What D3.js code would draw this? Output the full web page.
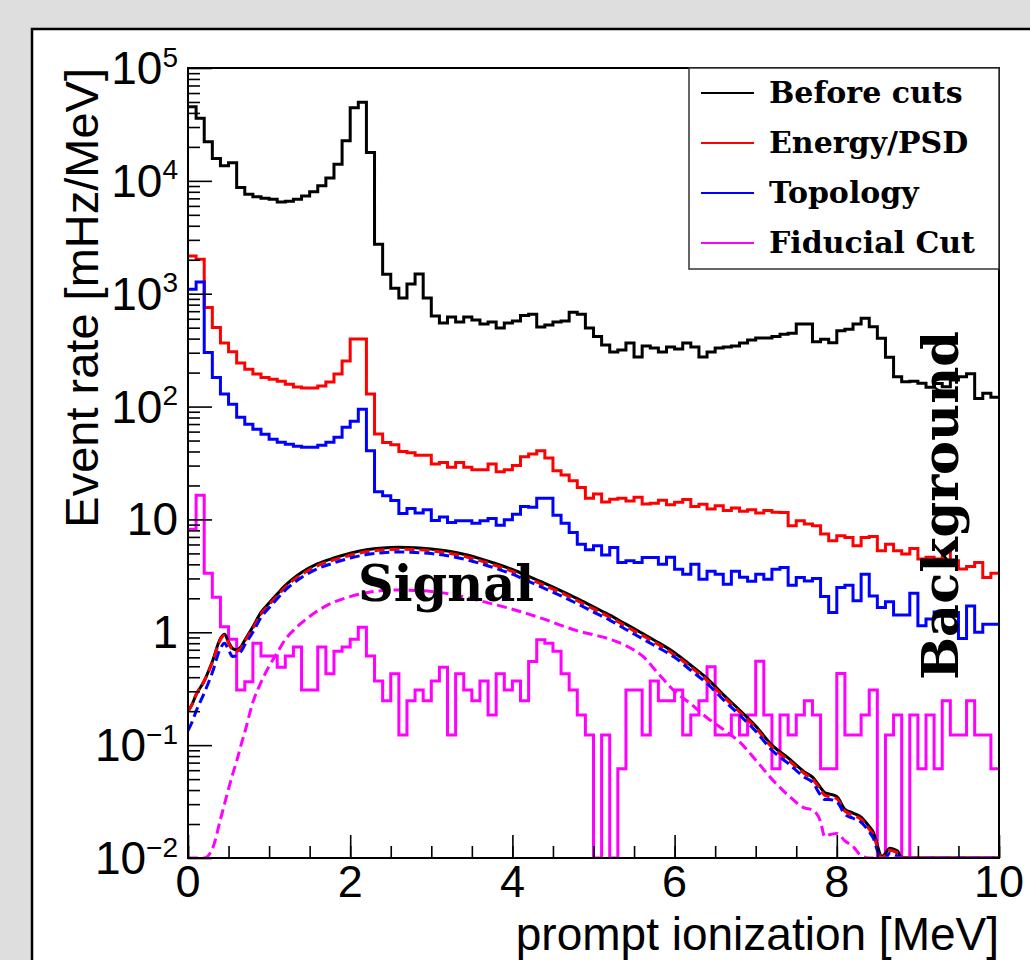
<!DOCTYPE html>
<html>
<head>
<meta charset="utf-8">
<script src="https://cdn.jsdelivr.net/npm/d3@7"></script>
<style>
  body { margin: 0; background: #dedede; }
  svg { display: block; }
  .lab { font-family: "Liberation Sans", Arial, Helvetica, sans-serif; fill: #000; }
  .tex { font-family: "DejaVu Serif", serif; font-weight: bold; fill: #000; }
</style>
</head>
<body>
<div class="chart"></div>
<script>
// histograms: 100 bins of 0.1 MeV from 0 to 10 MeV
var beforeCuts = [45400, 35800, 22200, 15800, 13600, 14500, 8750, 7590, 7240, 7000,
  6860, 6500, 6580, 6860, 7340, 8020, 9060, 10600, 14000, 22700,
  44500, 49600, 17800, 2740, 1490, 1120, 916, 1220, 1495, 916,
  634, 550, 622, 561, 622, 585, 538, 561, 497, 550,
  573, 642, 658, 507, 528, 561, 573, 686, 658, 497,
  417, 352, 304, 317, 366, 275, 344, 330, 304, 337,
  324, 366, 337, 275, 304, 330, 337, 344, 366, 389,
  406, 406, 417, 437, 446, 539, 539, 376, 394, 368,
  470, 484, 539, 605, 510, 403, 273, 184, 166, 168,
  161, 148, 160, 150, 172, 184, 195, 118, 131, 121];

var energyPSD = [2160, 2020, 755, 502, 365, 306, 243, 214, 194, 181,
  175, 168, 158, 149, 146, 146, 152, 165, 194, 254,
  396, 396, 129, 57, 48, 46, 40, 39, 37, 37,
  31, 32, 29, 32, 29, 27.5, 27.5, 31, 26.4, 27.5,
  30, 36, 38, 40.5, 35, 27, 24.7, 22, 19.2, 15.4,
  16.8, 14.3, 15.1, 15.4, 14.6, 15.7, 13.7, 13.9, 14.8, 13.5,
  14.2, 15.0, 13.0, 13.6, 12.4, 13.2, 12.0, 12.6, 11.8, 12.2,
  11.4, 12.0, 11.6, 11.5, 8.77, 9.72, 9.09, 8.77, 7.41, 6.46,
  7.16, 6.93, 5.84, 6.93, 7.07, 5.27, 6.04, 5.27, 4.93, 5.54,
  4.45, 4.63, 4.45, 5.27, 4.30, 3.63, 3.83, 4.16, 3.06, 3.34];

var topology = [1097, 1273, 302, 181, 129, 105, 80.5, 69.8, 63, 56.9,
  51.4, 48.4, 46.4, 44.5, 43.7, 43.7, 45.5, 48.4, 53.5, 65.6,
  74.3, 94.8, 40.5, 17.6, 16.2, 14.7, 11.3, 12.5, 11.4, 12.2,
  9.8, 10.5, 9.41, 9.72, 9.72, 9.27, 9.72, 10.2, 8.9, 9.92,
  11.1, 13.0, 12.8, 15.4, 15.4, 10.9, 9.27, 7.67, 6.04, 5.38,
  5.84, 4.83, 5.65, 4.16, 4.30, 4.16, 4.61, 4.61, 4.01, 4.62,
  3.62, 3.27, 4.01, 2.95, 3.47, 3.27, 2.67, 3.47, 3.08, 2.84,
  3.27, 2.95, 3.62, 3.75, 2.61, 3.06, 2.85, 3.0, 2.08, 1.50,
  2.49, 2.61, 1.90, 3.27, 2.10, 1.66, 1.86, 1.42, 1.42, 2.22,
  1.14, 1.31, 1.51, 1.42, 1.50, 0.88, 1.71, 1.0, 1.18, 1.18];

var fiducial = [8.2, 16.4, 3.33, 2.04, 1.12, 0.866, 0.308, 0.365, 0.80, 0.617,
  0.617, 0.49, 0.617, 0.74, 0.308, 0.308, 0.74, 0.43, 0.68, 0.74,
  0.866, 1.11, 0.617, 0.37, 0.247, 0.43, 0.123, 0.247, 0.308, 0.247,
  0.37, 0.49, 0.123, 0.43, 0.308, 0.247, 0.37, 0.185, 0.43, 0.308,
  0.37, 0.247, 0.55, 0.86, 0.80, 0.68, 0.43, 0.308, 0.185, 0.123,
  0, 0.123, 0, 0.0617, 0.308, 0.308, 0.123, 0.37, 0.247, 0.247,
  0.308, 0.123, 0.185, 0.247, 0.494, 0.123, 0.123, 0.185, 0.123, 0.185,
  0.555, 0.185, 0.0617, 0.185, 0.123, 0.185, 0.247, 0.185, 0.0617, 0.0617,
  0.432, 0.123, 0.123, 0.185, 0.308, 0, 0.123, 0.185, 0, 0.185,
  0.0617, 0.185, 0.0617, 0.247, 0.123, 0.123, 0.247, 0.123, 0.123, 0.0617];

// signal spectra (smooth curves), sampled in MeV
var sigX = [0, 0.05, 0.1, 0.2, 0.3, 0.4, 0.45, 0.5, 0.55, 0.6,
  0.65, 0.7, 0.8, 0.9, 1.0, 1.1, 1.2, 1.3, 1.4, 1.6,
  1.8, 2.0, 2.2, 2.4, 2.6, 2.8, 3.0, 3.2, 3.4, 3.6,
  3.8, 4.0, 4.2, 4.4, 4.6, 4.8, 5.0, 5.2, 5.4, 5.6,
  5.8, 6.0, 6.2, 6.4, 6.6, 6.8, 7.0, 7.2, 7.4, 7.6,
  7.7, 7.8, 7.85, 7.9, 8.0, 8.1, 8.2, 8.3, 8.4, 8.45,
  8.5, 8.55, 8.6, 8.65, 8.7, 8.75, 8.8, 9.0, 9.5, 10.0];

var sigBefore = [0.20, 0.23, 0.28, 0.37, 0.55, 0.88, 0.96, 0.82, 0.72, 0.70,
  0.74, 0.85, 1.12, 1.50, 1.82, 2.18, 2.6, 3.0, 3.38, 4.05,
  4.55, 5.02, 5.38, 5.58, 5.66, 5.62, 5.48, 5.25, 4.92, 4.5,
  4.05, 3.6, 3.13, 2.71, 2.33, 1.99, 1.68, 1.42, 1.18, 0.98,
  0.81, 0.66, 0.51, 0.39, 0.28, 0.205, 0.148, 0.10, 0.077, 0.058,
  0.052, 0.042, 0.038, 0.037, 0.035, 0.027, 0.025, 0.023, 0.019, 0.017,
  0.013, 0.0103, 0.011, 0.0122, 0.012, 0.0115, 0.0098, 0.005, 0.005, 0.005];

var sigEnergy = [0.20, 0.23, 0.28, 0.37, 0.54, 0.86, 0.94, 0.80, 0.70, 0.68,
  0.72, 0.83, 1.08, 1.45, 1.76, 2.1, 2.5, 2.9, 3.25, 3.9,
  4.38, 4.82, 5.17, 5.36, 5.44, 5.4, 5.26, 5.04, 4.72, 4.32,
  3.89, 3.46, 3.0, 2.6, 2.24, 1.91, 1.61, 1.36, 1.13, 0.94,
  0.78, 0.63, 0.49, 0.375, 0.27, 0.197, 0.142, 0.096, 0.074, 0.056,
  0.05, 0.040, 0.036, 0.035, 0.0335, 0.026, 0.024, 0.022, 0.018, 0.016,
  0.0125, 0.0099, 0.0106, 0.0117, 0.0115, 0.011, 0.0094, 0.005, 0.005, 0.005];

var sigTopology = [0.135, 0.16, 0.2, 0.29, 0.44, 0.72, 0.80, 0.70, 0.61, 0.62,
  0.67, 0.77, 1.0, 1.35, 1.65, 1.98, 2.36, 2.72, 3.06, 3.66,
  4.12, 4.55, 4.88, 5.06, 5.14, 5.1, 4.98, 4.76, 4.46, 4.08,
  3.67, 3.27, 2.82, 2.44, 2.1, 1.79, 1.51, 1.28, 1.06, 0.88,
  0.73, 0.6, 0.46, 0.352, 0.253, 0.185, 0.133, 0.09, 0.069, 0.052,
  0.047, 0.036, 0.033, 0.033, 0.0315, 0.0244, 0.0225, 0.0207, 0.017, 0.015,
  0.0117, 0.0093, 0.0099, 0.011, 0.0108, 0.0104, 0.0089, 0.005, 0.005, 0.005];

var sigFiducial = [0.005, 0.005, 0.005, 0.005, 0.012, 0.022, 0.03, 0.041, 0.055, 0.072,
  0.098, 0.13, 0.24, 0.36, 0.50, 0.66, 0.865, 1.04, 1.21, 1.55,
  1.85, 2.07, 2.24, 2.34, 2.37, 2.35, 2.3, 2.2, 2.06, 1.9,
  1.75, 1.6, 1.45, 1.3, 1.15, 1.03, 0.95, 0.87, 0.76, 0.62,
  0.43, 0.30, 0.232, 0.175, 0.138, 0.107, 0.074, 0.05, 0.036, 0.0278,
  0.0266, 0.021, 0.0155, 0.016, 0.0165, 0.0142, 0.0126, 0.0105, 0.009, 0.007,
  0.005, 0.005, 0.005, 0.005, 0.005, 0.005, 0.005, 0.005, 0.005, 0.005];

var legendNames = ["Before cuts", "Energy/PSD", "Topology", "Fiducial Cut"];
var colors = ["#000000", "#ff0000", "#0000ff", "#ff00ff"];

var xTickLabels = ["0", "2", "4", "6", "8", "10"];
var yTickValues = [1e5, 1e4, 1e3, 1e2, 10, 1, 0.1, 0.01];
var yTickBase = ["10", "10", "10", "10", "10", "1", "10", "10"];
var yTickSup = ["5", "4", "3", "2", "", "", "\u22121", "\u22122"];

// layout
var width = 1030, height = 960;
var frame = {left: 188, right: 999, top: 68, bottom: 858};

var svg = d3.select(".chart")
            .append("svg")
            .attr("width", width)
            .attr("height", height);

svg.append("rect").attr("width", width).attr("height", height).attr("fill", "#dedede");
svg.append("rect")
   .attr("x", 32).attr("y", 29)
   .attr("width", 1100).attr("height", 1100)
   .attr("fill", "#fff")
   .attr("stroke", "#000")
   .attr("stroke-width", 2.5);

var x = d3.scaleLinear().domain([0, 10]).range([frame.left, frame.right]);
var y = d3.scaleLog().domain([1e-2, 1e5]).range([frame.bottom, frame.top]).clamp(true);

svg.append("clipPath").attr("id", "plotclip")
   .append("rect")
   .attr("x", frame.left).attr("y", frame.top - 2)
   .attr("width", frame.right - frame.left)
   .attr("height", frame.bottom - frame.top + 3);

var plot = svg.append("g").attr("clip-path", "url(#plotclip)");

// histograms as steps
var binLow = d3.range(100).map(i => i / 10);
var histLine = d3.line()
                 .x(d => x(d[0]))
                 .y(d => y(Math.max(d[1], 1e-3)))
                 .curve(d3.curveStepAfter);

[beforeCuts, energyPSD, topology, fiducial].forEach(function (h, k) {
  var pts = binLow.map((b, i) => [b, h[i]]);
  pts.push([10, h[h.length - 1]]);
  plot.append("path")
      .attr("d", histLine(pts))
      .attr("fill", "none")
      .attr("stroke", colors[k])
      .attr("stroke-width", 3)
      .attr("stroke-linejoin", "miter");
});

// signal curves
var sigLine = d3.line()
                .x(d => x(d[0]))
                .y(d => y(Math.max(d[1], 1e-3)))
                .curve(d3.curveMonotoneX);

[sigBefore, sigEnergy, sigTopology, sigFiducial].forEach(function (s, k) {
  plot.append("path")
      .attr("d", sigLine(sigX.map((v, i) => [v, s[i]])))
      .attr("fill", "none")
      .attr("stroke", colors[k])
      .attr("stroke-width", 3)
      .attr("stroke-dasharray", k === 0 ? null : "10,5");
});

// frame
svg.append("rect")
   .attr("x", frame.left).attr("y", frame.top)
   .attr("width", frame.right - frame.left)
   .attr("height", frame.bottom - frame.top)
   .attr("fill", "none")
   .attr("stroke", "#000")
   .attr("stroke-width", 2);

// ticks (pointing inwards)
var xAxisG = svg.append("g").attr("transform", "translate(0," + frame.bottom + ")");
xAxisG.append("g")
      .call(d3.axisBottom(x).tickValues(d3.range(0, 10.01, 0.5)).tickSize(-12).tickFormat(""))
      .call(g => g.select(".domain").remove());
xAxisG.append("g")
      .call(d3.axisBottom(x).tickValues(d3.range(0, 10.01, 2)).tickSize(-23).tickFormat(""))
      .call(g => g.select(".domain").remove());
xAxisG.selectAll(".tick line").attr("stroke", "#000").attr("stroke-width", 1.6);

var yMinor = y.ticks().filter(v => Math.abs(Math.log10(v) - Math.round(Math.log10(v))) > 1e-6);
var yAxisG = svg.append("g").attr("transform", "translate(" + frame.left + ",0)");
yAxisG.append("g")
      .call(d3.axisLeft(y).tickValues(yMinor).tickSize(-12).tickFormat(""))
      .call(g => g.select(".domain").remove());
yAxisG.append("g")
      .call(d3.axisLeft(y).tickValues(yTickValues).tickSize(-24).tickFormat(""))
      .call(g => g.select(".domain").remove());
yAxisG.selectAll(".tick line").attr("stroke", "#000").attr("stroke-width", 1.6);

// tick labels
svg.append("g").selectAll("text")
   .data(xTickLabels)
   .enter()
   .append("text")
   .attr("class", "lab")
   .attr("x", d => x(+d))
   .attr("y", 897)
   .attr("text-anchor", "middle")
   .style("font-size", "45px")
   .text(d => d);

var yl = svg.append("g").selectAll("text")
   .data(yTickValues)
   .enter()
   .append("text")
   .attr("class", "lab")
   .attr("x", 178)
   .attr("y", d => y(d) + 16)
   .attr("text-anchor", "end")
   .style("font-size", "46px");
yl.append("tspan").text((d, i) => yTickBase[i]);
yl.append("tspan")
  .attr("dy", "-0.62em")
  .style("font-size", "28px")
  .text((d, i) => yTickSup[i]);

// axis titles
svg.append("text")
   .attr("class", "lab")
   .attr("x", frame.right)
   .attr("y", 950)
   .attr("text-anchor", "end")
   .style("font-size", "46px")
   .text("prompt ionization [MeV]");

svg.append("text")
   .attr("class", "lab")
   .attr("transform", "translate(98," + frame.top + ") rotate(-90)")
   .attr("text-anchor", "end")
   .style("font-size", "47px")
   .text("Event rate [mHz/MeV]");

// annotations
svg.append("text")
   .attr("class", "tex")
   .attr("x", 358)
   .attr("y", 601)
   .style("font-size", "49.5px")
   .text("Signal");

svg.append("text")
   .attr("class", "tex")
   .attr("transform", "translate(958,680) rotate(-90)")
   .style("font-size", "51px")
   .text("Background");

// legend
var legend = svg.append("g").attr("id", "legend");
legend.append("rect")
      .attr("x", 689).attr("y", frame.top)
      .attr("width", frame.right - 689)
      .attr("height", 269 - frame.top)
      .attr("fill", "#fff")
      .attr("stroke", "#333")
      .attr("stroke-width", 1.5);

var entry = legend.selectAll("g.entry")
                  .data(legendNames)
                  .enter()
                  .append("g")
                  .attr("class", "entry")
                  .attr("transform", (d, i) => "translate(0," + (93 + 50 * i) + ")");
entry.append("line")
     .attr("x1", 701).attr("x2", 754)
     .attr("stroke", (d, i) => colors[i])
     .attr("stroke-width", 2);
entry.append("text")
     .attr("class", "tex")
     .attr("x", 769)
     .attr("y", 10)
     .style("font-size", "30px")
     .text(d => d);
</script>
</body>
</html>
